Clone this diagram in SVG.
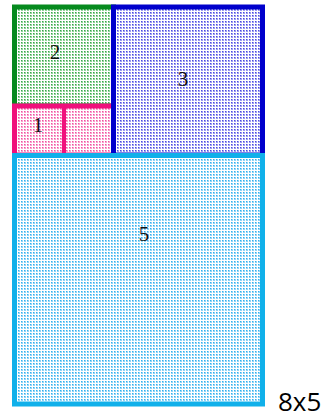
<svg xmlns="http://www.w3.org/2000/svg" width="325" height="419" viewBox="0 0 325 419">
<defs>
<pattern id="pg" width="3" height="3" patternUnits="userSpaceOnUse"><rect width="3" height="3" fill="#ffffff"/><rect width="2" height="2" fill="#8fd39a"/><rect width="1" height="1" fill="#3aa34a"/></pattern>
<pattern id="pb" width="3" height="3" patternUnits="userSpaceOnUse"><rect width="3" height="3" fill="#ffffff"/><rect width="2" height="2" fill="#9c9cf0"/><rect width="1" height="1" fill="#4a4ae0"/></pattern>
<pattern id="pp" width="3" height="3" patternUnits="userSpaceOnUse"><rect width="3" height="3" fill="#ffffff"/><rect width="2" height="2" fill="#f8a0cc"/><rect width="1" height="1" fill="#f050a0"/></pattern>
<pattern id="pc" width="3" height="3" patternUnits="userSpaceOnUse"><rect width="3" height="3" fill="#ffffff"/><rect width="2" height="2" fill="#90d4f6"/><rect width="1" height="1" fill="#30b0ee"/></pattern>
</defs>
<style>
.box{stroke-width:5}
.num{font-family:"Liberation Serif",serif;font-size:21px;fill:#111;text-anchor:middle}
.lbl{font-family:"Open Sans",sans-serif;font-size:26px;fill:#000}
</style>
<g id="n2"><rect class="box" x="14.5" y="7" width="99" height="99" fill="url(#pg)" stroke="#068a1e"/><text class="num" x="55" y="59">2</text></g>
<g id="n1"><rect class="box" x="14.5" y="106" width="99" height="49" fill="url(#pp)" stroke="#f0107c"/><line x1="64" y1="106" x2="64" y2="155" stroke="#f0107c" stroke-width="4"/><text class="num" x="38" y="132">1</text></g>
<g id="n3"><rect class="box" x="113.5" y="7" width="149" height="148" fill="url(#pb)" stroke="#0000cc"/><text class="num" x="183" y="86">3</text></g>
<g id="n5"><rect class="box" x="14.5" y="155.5" width="248" height="248.5" fill="url(#pc)" stroke="#10b0ea"/><text class="num" x="144" y="241">5</text></g>
<text class="lbl" x="278" y="411">8x5</text>
</svg>
